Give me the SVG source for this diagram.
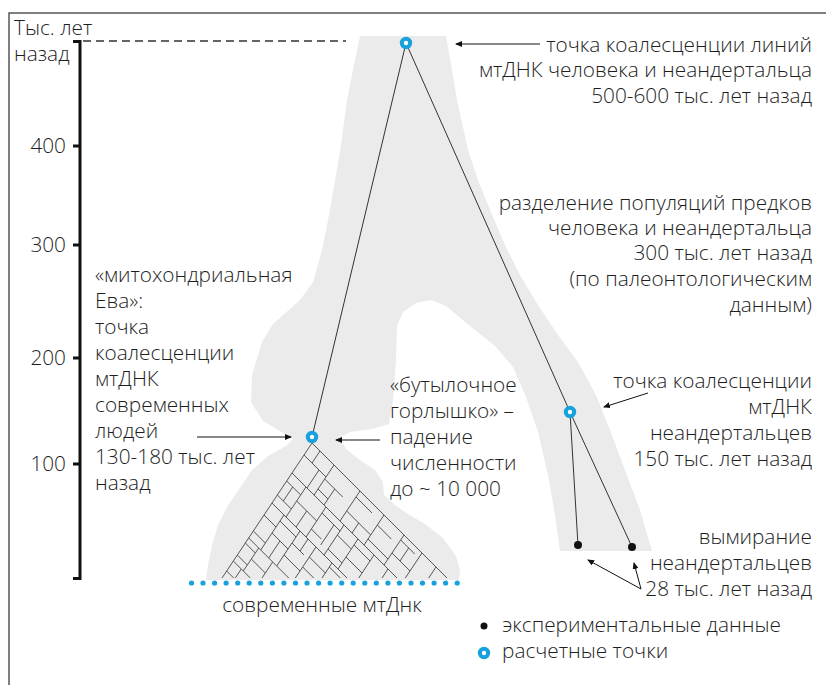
<svg xmlns="http://www.w3.org/2000/svg" width="826" height="685" viewBox="0 0 826 685">
<defs>
<marker id="ah" markerWidth="7" markerHeight="6" refX="6" refY="3" orient="auto" markerUnits="userSpaceOnUse">
<path d="M0,0 L7,3 L0,6 Z" fill="#111"/>
</marker>
</defs>
<style>
text{font-family:"Open Sans","Liberation Sans",sans-serif;font-size:20.8px;font-weight:300;fill:#1e1e1e}
.r{text-anchor:end}
.ax{text-anchor:end}
.ring{fill:#fff;stroke:#17a2dd;stroke-width:4}
.dot{fill:#111}
.bdot{fill:#17a2dd}
.tree{stroke:#555;stroke-width:1;fill:none}
.conn{stroke:#333;stroke-width:1;fill:none}
.arr{stroke:#111;stroke-width:1;fill:none;marker-end:url(#ah)}
</style>
<rect width="826" height="685" fill="#fff"/>
<path d="M9,685 V13 H826" fill="none" stroke="#555" stroke-width="1.5"/>

<g id="background">
<path fill="#ebebeb" d="M360,36 L446,36 L452,70 L457,100 L468,150 L478,180 L490,210 L505,245 L520,275 L538,305 L558,335 L578,362 L596,395 L610,430 L625,470 L640,510 L652,551 L560,551 L555,515 L548,475 L538,432 L526,397 L513,367 L495,346 L470,326 L446,306 L431,300 L416,303 L403,312 L397,326 L396,360 L393,400 L389,424 L372,429 L350,432 L339,438 L347,450 L360,460 L375,470 L383,482 L384,495 L395,505 L408,514 L425,524 L443,538 L456,556 L460,570 L459,580 L206,580 L208,565 L212,545 L218,525 L227,507 L240,488 L252,470 L268,456 L286,446 L293,439 L280,431 L263,421 L251,402 L252,375 L262,342 L273,324 L300,300 L313,282 L322,250 L329,215 L336,175 L341,145 L347,100 L354,65 Z"/>
</g>

<g id="axis">
<path d="M73,41.5 H80 V578.5 H73" fill="none" stroke="#111" stroke-width="3"/>
<path d="M73,146 H80 M73,245 H80 M73,358 H80 M73,464 H80" stroke="#111" stroke-width="3"/>
<line x1="83" y1="41" x2="346" y2="41" stroke="#333" stroke-width="1.5" stroke-dasharray="8,5"/>
<text x="14" y="35">Тыс. лет</text>
<text x="14" y="61">назад</text>
<text class="ax" x="66" y="153">400</text>
<text class="ax" x="66" y="252">300</text>
<text class="ax" x="66" y="365">200</text>
<text class="ax" x="66" y="471">100</text>
</g>

<g id="connectors">
<line class="conn" x1="406" y1="43" x2="312" y2="437"/>
<line class="conn" x1="406" y1="43" x2="570" y2="412"/>
<line class="conn" x1="570" y1="412" x2="578" y2="545"/>
<line class="conn" x1="570" y1="412" x2="632" y2="547"/>
<path class="arr" d="M540,44 H456"/>
<path class="arr" d="M197,437 H291"/>
<path class="arr" d="M380,440 H336"/>
<path class="arr" d="M648,393 L604,407"/>
<path class="arr" d="M641,589 L588,560"/>
<path class="arr" d="M641,589 L634,563"/>
</g>

<g id="node-modern">
<path class="tree" d="M312,443 L222,578 M312,443 L447,578
M334,465 L314,495 M360,491 L340,521 M384,515 L364,545 M404,535 L384,565 M422,553 L405.3,578 M436,567 L428.7,578 M292,473 L397,578
M324.7,479 L342.7,497 M346.7,511 L370.7,535 M377.3,525 L391.3,539 M392,553 L410,571 M304,455 L326,477
M306,487 L286,517 M326,507 L306,537 M344,525 L324,555 M358,539 L338,569 M374,555 L358.7,578 M388,569 L382,578 M272,503 L347,578
M296.7,501 L316.7,521 M311.3,529 L321.3,539 M337.3,535 L351.3,549 M346,557 L362,573 M286.7,481 L300.7,495
M284,515 L260.7,550 M300,531 L276.7,566 M316,547 L295.3,578 M332,563 L322,578 M248.7,538 L288.7,578
M272,533 L288,549 M292,543 L304,555 M284,555 L300,571 M309.3,557 L325.3,573 M264,515 L276,527
M233.3,561 L250.3,578 M258.7,548 L243.3,571 M272.7,562 L262,578 M251.3,559 L265.3,573 M241.3,569 L235.3,578 M226.7,571 L233.7,578
M334.7,489 L324,505 M356,497 L372,513 M318,489 L328,499 M358.7,523 L352,533 M368,539 L388,559 M400.7,540 L414.7,554 M408.7,548 L400,561
M320,451 L312,463 M319,470 L307,488
M322,513 L340,531 M334,525 L320.7,545 M328,549 L342,563 M354,545 L370,561 M306.7,511 L296,527 M277.3,495 L291.3,509 M292.7,487 L283.3,501
M253.3,531 L265.3,543 M280,541 L268.7,558 M280,521 L296,537 M308,539 L300,551 M302.7,567 L313.7,578 M329.3,567 L340.3,578
M245.3,543 L255.3,553 M237.3,555 L247.3,565"/>
<g class="bdot">
<circle cx="191.5" cy="583" r="2.6"/><circle cx="203" cy="583" r="2.6"/><circle cx="214.6" cy="583" r="2.6"/><circle cx="226.1" cy="583" r="2.6"/>
<circle cx="237.7" cy="583" r="2.6"/><circle cx="249.2" cy="583" r="2.6"/><circle cx="260.8" cy="583" r="2.6"/><circle cx="272.4" cy="583" r="2.6"/>
<circle cx="283.9" cy="583" r="2.6"/><circle cx="295.5" cy="583" r="2.6"/><circle cx="307" cy="583" r="2.6"/><circle cx="318.6" cy="583" r="2.6"/>
<circle cx="330.1" cy="583" r="2.6"/><circle cx="341.7" cy="583" r="2.6"/><circle cx="353.2" cy="583" r="2.6"/><circle cx="364.8" cy="583" r="2.6"/>
<circle cx="376.3" cy="583" r="2.6"/><circle cx="387.9" cy="583" r="2.6"/><circle cx="399.4" cy="583" r="2.6"/><circle cx="411" cy="583" r="2.6"/>
<circle cx="422.5" cy="583" r="2.6"/><circle cx="434.1" cy="583" r="2.6"/><circle cx="445.6" cy="583" r="2.6"/><circle cx="457.2" cy="583" r="2.6"/>
</g>
<text x="322" y="612" text-anchor="middle">современные мтДнк</text>
</g>

<g id="node-root">
<circle class="ring" cx="406" cy="43" r="4.2"/>
<text class="r" x="812" y="52">точка коалесценции линий</text>
<text class="r" x="812" y="77">мтДНК человека и неандертальца</text>
<text class="r" x="812" y="103">500-600 тыс. лет назад</text>
</g>

<g id="node-separation">
<text class="r" x="812" y="210">разделение популяций предков</text>
<text class="r" x="812" y="235">человека и неандертальца</text>
<text class="r" x="812" y="260">300 тыс. лет назад</text>
<text class="r" x="812" y="286">(по палеонтологическим</text>
<text class="r" x="812" y="312">данным)</text>
</g>

<g id="node-eve">
<circle class="ring" cx="312" cy="437" r="4.2"/>
<text x="95" y="282">«митохондриальная</text>
<text x="95" y="308">Ева»:</text>
<text x="95" y="334">точка</text>
<text x="95" y="360">коалесценции</text>
<text x="95" y="386">мтДНК</text>
<text x="95" y="412">современных</text>
<text x="95" y="438">людей</text>
<text x="95" y="464">130-180 тыс. лет</text>
<text x="95" y="490">назад</text>
</g>

<g id="node-bottleneck">
<text x="390" y="392">«бутылочное</text>
<text x="390" y="418">горлышко» –</text>
<text x="390" y="444">падение</text>
<text x="390" y="470">численности</text>
<text x="390" y="496">до ~ 10 000</text>
</g>

<g id="node-neanderthal">
<circle class="ring" cx="570" cy="412" r="4.2"/>
<text class="r" x="812" y="388">точка коалесценции</text>
<text class="r" x="812" y="414">мтДНК</text>
<text class="r" x="812" y="440">неандертальцев</text>
<text class="r" x="812" y="466">150 тыс. лет назад</text>
</g>

<g id="node-extinction">
<circle class="dot" cx="578" cy="545" r="4"/>
<circle class="dot" cx="632" cy="547" r="4"/>
<text class="r" x="812" y="544">вымирание</text>
<text class="r" x="812" y="570">неандертальцев</text>
<text class="r" x="812" y="596">28 тыс. лет назад</text>
</g>

<g id="legend">
<circle class="dot" cx="484" cy="626" r="3.5"/>
<text x="502" y="632">экспериментальные данные</text>
<circle class="ring" cx="484" cy="653" r="4.2"/>
<text x="502" y="658">расчетные точки</text>
</g>
</svg>
